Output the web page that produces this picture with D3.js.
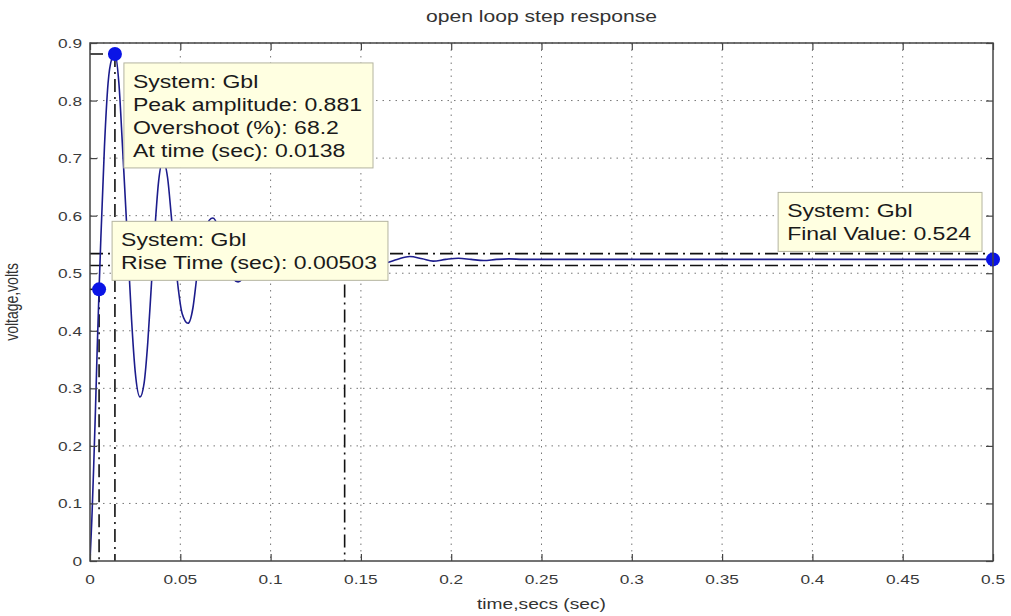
<!DOCTYPE html>
<html><head><meta charset="utf-8">
<script src="https://cdn.jsdelivr.net/npm/d3@7"></script>
<style>
html,body{margin:0;padding:0;background:#fff;}
svg{display:block;font-family:"Liberation Sans",Arial,Helvetica,sans-serif;}
</style></head><body>
<svg id="chart" width="1011" height="616"></svg>
<script>
// Step response samples of Gbl: time (s) and output voltage (V)
const timeSec = [0, 0.001, 0.002, 0.003, 0.004, 0.00503, 0.006, 0.008, 0.010, 0.012, 0.0138,
  0.016, 0.018, 0.0207, 0.023, 0.025, 0.0277, 0.030, 0.032, 0.034, 0.036, 0.038, 0.0404,
  0.043, 0.045, 0.047, 0.049, 0.051, 0.0543, 0.057, 0.059, 0.061, 0.064, 0.068,
  0.071, 0.074, 0.077, 0.082, 0.086, 0.089, 0.095, 0.102, 0.109, 0.115, 0.122, 0.129,
  0.136, 0.143, 0.150, 0.157, 0.163, 0.170, 0.177, 0.184, 0.190, 0.197, 0.204, 0.211,
  0.218, 0.225, 0.232, 0.240, 0.300, 0.400, 0.500];
const voltage = [0, 0.07, 0.16, 0.26, 0.37, 0.472, 0.56, 0.72, 0.83, 0.872, 0.881,
  0.83, 0.72, 0.56, 0.42, 0.33, 0.285, 0.31, 0.38, 0.48, 0.58, 0.66, 0.695,
  0.665, 0.60, 0.53, 0.47, 0.43, 0.413, 0.44, 0.49, 0.54, 0.58, 0.596,
  0.58, 0.54, 0.505, 0.485, 0.50, 0.535, 0.555, 0.53, 0.503, 0.525, 0.540, 0.527,
  0.513, 0.524, 0.532, 0.525, 0.518, 0.524, 0.529, 0.525, 0.521, 0.524, 0.526, 0.524,
  0.522, 0.524, 0.525, 0.524, 0.524, 0.524, 0.524];

const xTickValues = [0, 0.05, 0.1, 0.15, 0.2, 0.25, 0.3, 0.35, 0.4, 0.45, 0.5];
const xTickLabels = ["0", "0.05", "0.1", "0.15", "0.2", "0.25", "0.3", "0.35", "0.4", "0.45", "0.5"];
const yTickValues = [0, 0.1, 0.2, 0.3, 0.4, 0.5, 0.6, 0.7, 0.8, 0.9];
const yTickLabels = ["0", "0.1", "0.2", "0.3", "0.4", "0.5", "0.6", "0.7", "0.8", "0.9"];

// Step characteristics
const systemName = "Gbl";
const peakTime = 0.0138, peakAmplitude = 0.881, overshootPct = 68.2;
const riseTime = 0.00503, riseLevel = 0.472;
const finalValue = 0.524;
const settlingTime = 0.141;
const settlingBand = [0.5135, 0.534];

const titleText = "open loop step response";
const xLabelText = "time,secs (sec)";
const yLabelText = "voltage,volts";

// ---- layout / style ----
const W = 1011, H = 616;
const plot = {left: 90, right: 993, top: 43, bottom: 561};
const SX = 1.28;              // horizontal stretch applied to all text
const TEXT_COLOR = "#333";
const TIP_FONT = 18, TIP_LINE = 23;

const svg = d3.select("#chart");
svg.append("rect").attr("width", W).attr("height", H).attr("fill", "#fff");

const x = d3.scaleLinear().domain([0, 0.5]).range([plot.left, plot.right]);
const y = d3.scaleLinear().domain([0, 0.9]).range([plot.bottom, plot.top]);

function stretchText(g, px, py, str, size, anchor, fill) {
  return g.append("text")
    .attr("transform", `translate(${px},${py}) scale(${SX},1)`)
    .attr("text-anchor", anchor || "start")
    .attr("font-size", size)
    .attr("fill", fill || TEXT_COLOR)
    .text(str);
}

svg.append("clipPath").attr("id", "plotClip")
  .append("rect").attr("x", plot.left).attr("y", plot.top)
  .attr("width", plot.right - plot.left).attr("height", plot.bottom - plot.top);

// grid
const grid = svg.append("g").attr("stroke", "#777").attr("stroke-width", 1)
  .attr("stroke-dasharray", "1.5,5");
grid.selectAll("line.gx").data(xTickValues.slice(1, -1)).join("line")
  .attr("class", "gx")
  .attr("x1", d => x(d)).attr("x2", d => x(d))
  .attr("y1", plot.top).attr("y2", plot.bottom);
grid.selectAll("line.gy").data(yTickValues.slice(1)).join("line")
  .attr("class", "gy")
  .attr("y1", d => y(d)).attr("y2", d => y(d))
  .attr("x1", plot.left).attr("x2", plot.right);

// characteristic guide lines (dash-dot)
const guides = svg.append("g").attr("clip-path", "url(#plotClip)")
  .attr("stroke", "#111").attr("stroke-width", 1.6).attr("fill", "none")
  .attr("stroke-dasharray", "13,5,2,5");
guides.selectAll("line.band").data(settlingBand).join("line")
  .attr("class", "band")
  .attr("x1", x(0)).attr("x2", x(0.5))
  .attr("y1", d => y(d)).attr("y2", d => y(d));
const verticals = [[riseTime, riseLevel], [peakTime, peakAmplitude], [settlingTime, finalValue]];
guides.selectAll("line.vert").data(verticals).join("line")
  .attr("class", "vert")
  .attr("x1", d => x(d[0])).attr("x2", d => x(d[0]))
  .attr("y1", d => y(d[1])).attr("y2", y(0));
guides.selectAll("line.horiz").data([[riseTime, riseLevel], [peakTime, peakAmplitude]]).join("line")
  .attr("class", "horiz")
  .attr("x1", x(0)).attr("x2", d => x(d[0]))
  .attr("y1", d => y(d[1])).attr("y2", d => y(d[1]))
  .attr("stroke-dasharray", null);

// response curve
const pts = timeSec.map((t, i) => [t, voltage[i]]);
svg.append("path").datum(pts)
  .attr("clip-path", "url(#plotClip)")
  .attr("fill", "none").attr("stroke", "#1c1c8c").attr("stroke-width", 1.6)
  .attr("d", d3.line().x(d => x(d[0])).y(d => y(d[1])).curve(d3.curveMonotoneX));

// data tip markers
const markers = [[peakTime, peakAmplitude], [riseTime, riseLevel], [0.5, finalValue]];
svg.selectAll("circle.tip").data(markers).join("circle")
  .attr("class", "tip")
  .attr("cx", d => x(d[0])).attr("cy", d => y(d[1])).attr("r", 7)
  .attr("fill", "#0a14e6");

// data tips
function dataTip(lines, anchorX, anchorY, dx, dy, alignRight, alignBottom) {
  const g = svg.append("g");
  const box = g.append("rect").attr("fill", "#ffffe1").attr("stroke", "#b4b4a0").attr("stroke-width", 1);
  const texts = lines.map(s => stretchText(g, 0, 0, s, TIP_FONT, "start", "#1a1a1a"));
  const widths = texts.map(t => t.node().getComputedTextLength() * SX);
  const padX = 9;
  const bw = Math.max(...widths) + padX * 2 + 2;
  const bh = lines.length * TIP_LINE + 13;
  const bx = alignRight ? anchorX + dx - bw : anchorX + dx;
  const by = alignBottom ? anchorY + dy - bh : anchorY + dy;
  box.attr("x", bx).attr("y", by).attr("width", bw).attr("height", bh);
  texts.forEach((t, i) => t.attr("transform",
    `translate(${bx + padX},${by + 25 + i * TIP_LINE}) scale(${SX},1)`));
}
dataTip([`System: ${systemName}`, `Peak amplitude: ${peakAmplitude}`,
         `Overshoot (%): ${overshootPct}`, `At time (sec): ${peakTime}`],
        x(peakTime), y(peakAmplitude), 9, 9, false, false);
dataTip([`System: ${systemName}`, `Rise Time (sec): ${riseTime}`],
        x(riseTime), y(riseLevel), 13, -9, false, true);
dataTip([`System: ${systemName}`, `Final Value: ${finalValue}`],
        x(0.5), y(finalValue), -11, -8, true, true);

// axes with inward ticks
const axisStyle = g => {
  g.selectAll("path.domain").remove();
  g.selectAll(".tick line").attr("stroke", "#444").attr("stroke-width", 1.2);
};
svg.append("g").attr("transform", `translate(0,${plot.bottom})`)
  .call(d3.axisBottom(x).tickValues(xTickValues).tickSize(-7).tickFormat(""))
  .call(axisStyle);
svg.append("g").attr("transform", `translate(0,${plot.top})`)
  .call(d3.axisTop(x).tickValues(xTickValues).tickSize(-7).tickFormat(""))
  .call(axisStyle);
svg.append("g").attr("transform", `translate(${plot.left},0)`)
  .call(d3.axisLeft(y).tickValues(yTickValues).tickSize(-7).tickFormat(""))
  .call(axisStyle);
svg.append("g").attr("transform", `translate(${plot.right},0)`)
  .call(d3.axisRight(y).tickValues(yTickValues).tickSize(-7).tickFormat(""))
  .call(axisStyle);

// frame
svg.append("rect").attr("x", plot.left).attr("y", plot.top)
  .attr("width", plot.right - plot.left).attr("height", plot.bottom - plot.top)
  .attr("fill", "none").attr("stroke", "#444").attr("stroke-width", 1.5);

// tick labels
const labels = svg.append("g");
xTickValues.forEach((v, i) => stretchText(labels, x(v), plot.bottom + 23, xTickLabels[i], 13.5, "middle", "#3a3a3a"));
yTickValues.forEach((v, i) => stretchText(labels, plot.left - 8, y(v) + 5, yTickLabels[i], 13.5, "end", "#3a3a3a"));

// title and axis labels
stretchText(svg, (plot.left + plot.right) / 2, 22, titleText, 16.5, "middle");
stretchText(svg, (plot.left + plot.right) / 2, 609, xLabelText, 15, "middle");
svg.append("text")
  .attr("transform", `translate(18,${(plot.top + plot.bottom) / 2}) rotate(-90) scale(1,${SX})`)
  .attr("text-anchor", "middle").attr("font-size", 14).attr("fill", TEXT_COLOR)
  .text(yLabelText);
</script>
</body></html>
